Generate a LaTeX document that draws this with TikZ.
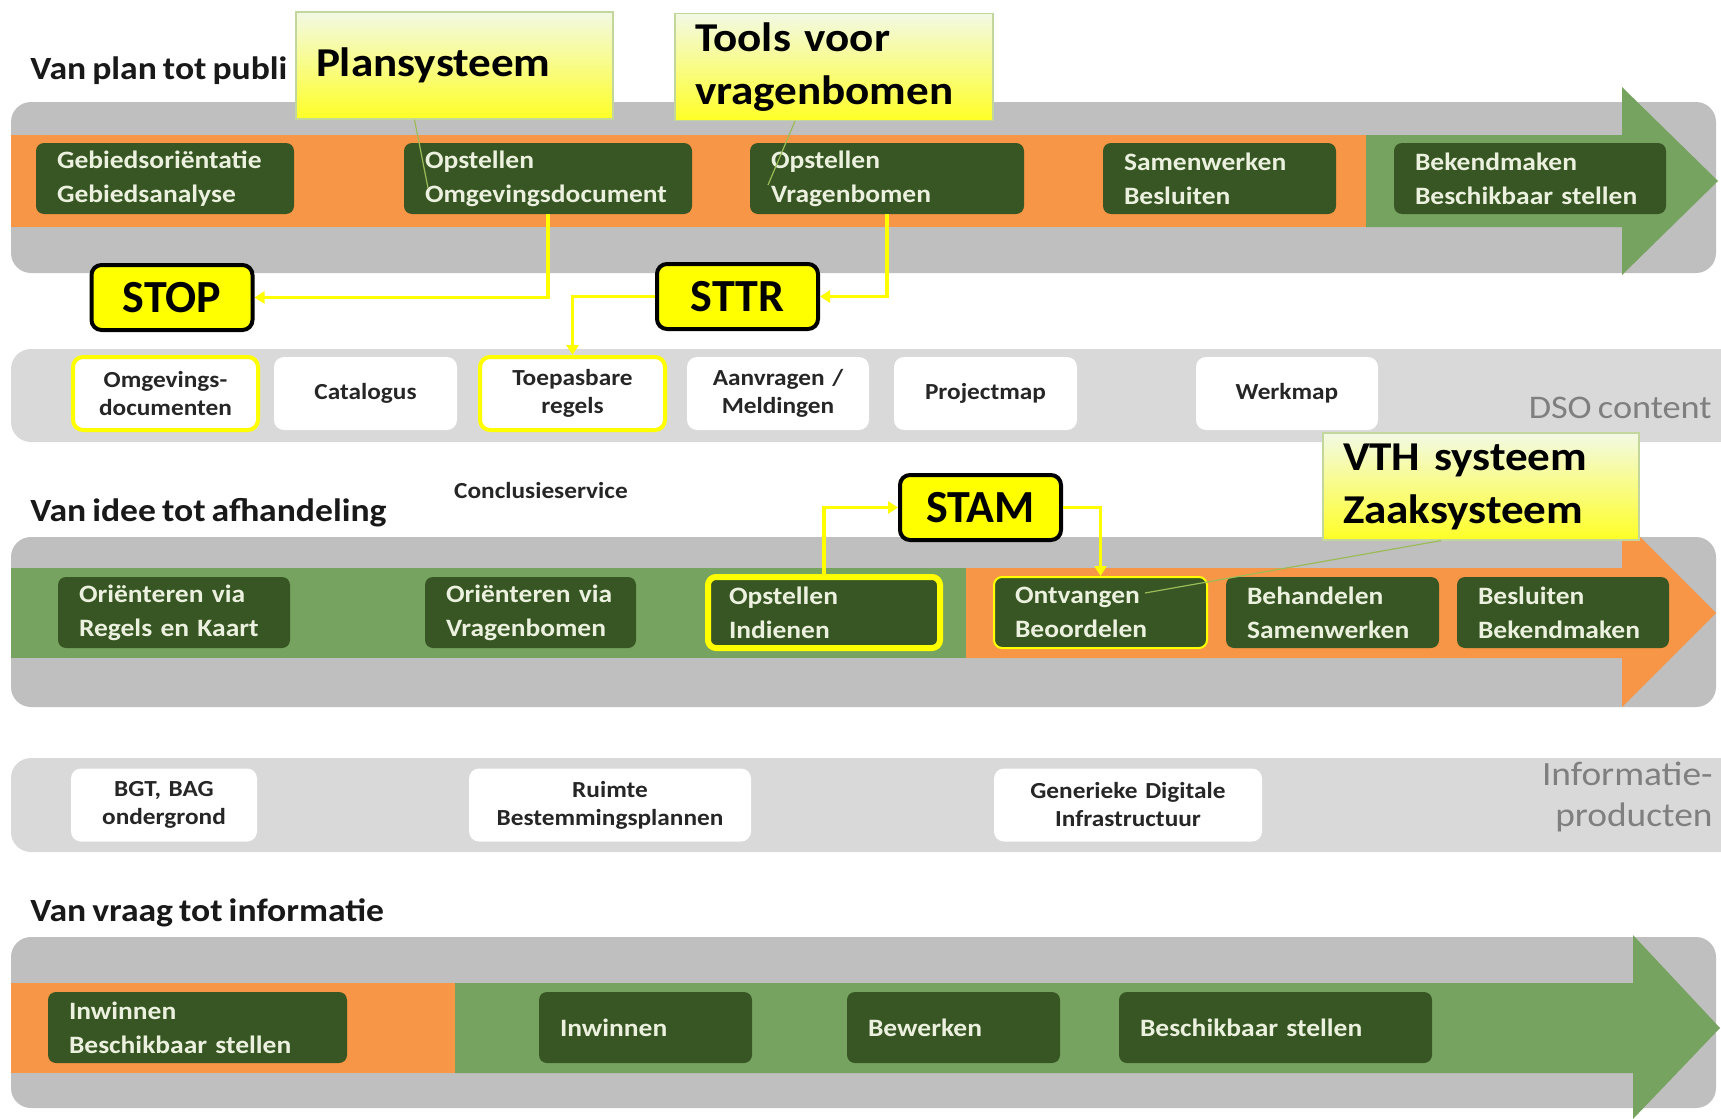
\documentclass[tikz,border=0pt]{standalone}
\usepackage{fontspec}
\setmainfont{Carlito}[FakeStretch=1.1, WordSpace=0.75]
\newfontfamily\tagfont{Carlito}
\usetikzlibrary{arrows.meta}

\definecolor{bandgrijs}{HTML}{BFBFBF}
\definecolor{lichtgrijs}{HTML}{D9D9D9}
\definecolor{oranje}{HTML}{F79646}
\definecolor{groen}{HTML}{77A360}
\definecolor{donkergroen}{HTML}{375623}
\definecolor{boxtekst}{HTML}{EBF1DE}
\definecolor{geel}{HTML}{FFFF00}
\definecolor{lichtgeel}{HTML}{F2F9E4}
\definecolor{kaderrand}{HTML}{C3D69B}
\definecolor{olijf}{HTML}{9BBB59}
\definecolor{grijstekst}{HTML}{7F7F7F}

\tikzset{
  stap/.style={rectangle, rounded corners=4pt, fill=donkergroen, text=boxtekst,
    font=\bfseries\fontsize{12.5}{17}\selectfont, align=left, text width=#1,
    inner xsep=10.5pt, inner ysep=2pt, minimum height=35.5pt},
  vak/.style={rectangle, rounded corners=5pt, fill=white, text=black!85,
    font=\bfseries\fontsize{11.5}{14}\selectfont, align=center, text width=#1,
    inner xsep=0pt, inner ysep=2pt, minimum height=36.5pt},
  tag/.style={rectangle, rounded corners=5pt, fill=geel, draw=black, line width=2pt,
    font=\tagfont\bfseries\fontsize{23}{26}\selectfont, minimum width=80.5pt, minimum height=32.5pt},
  kader/.style={rectangle, draw=kaderrand, line width=0.6pt, top color=lichtgeel, bottom color=geel!85,
    font=\bfseries\fontsize{20.5}{26.5}\selectfont, align=left, text width=#1,
    inner xsep=10pt, minimum height=53.5pt},
  titel/.style={anchor=west, font=\bfseries\fontsize{16.2}{19}\selectfont, text=black!90, inner sep=0pt},
  geelpijl/.style={draw=geel, line width=1.6pt, -{Triangle[width=6pt,length=5pt]}},
  wijzer/.style={draw=olijf, line width=0.6pt}
}

\begin{document}
\begin{tikzpicture}[x=0.5pt, y=-0.5pt]
\useasboundingbox (0,0) rectangle (1721,1119);
\fill[white] (0,0) rectangle (1721,1119);

\fill[bandgrijs, rounded corners=10pt] (11,102) rectangle (1716,273);
\fill[oranje] (11,135) rectangle (1366,227);
\fill[groen] (1366,135) -- (1622,135) -- (1622,87) -- (1718,181) -- (1622,275) -- (1622,227) -- (1366,227) -- cycle;

\fill[lichtgrijs, rounded corners=10pt] (1721,349) -- (11,349) -- (11,442) -- (1721,442);

\fill[bandgrijs, rounded corners=10pt] (11,537) rectangle (1716,707);
\fill[groen] (11,568) rectangle (966,658);
\fill[oranje] (966,568) -- (1622,568) -- (1622,519) -- (1716,613) -- (1622,707) -- (1622,658) -- (966,658) -- cycle;

\fill[lichtgrijs, rounded corners=10pt] (1721,758) -- (11,758) -- (11,852) -- (1721,852);

\fill[bandgrijs, rounded corners=10pt] (11,937) rectangle (1716,1108);
\fill[oranje] (11,983) rectangle (455,1073);
\fill[groen] (455,983) -- (1633,983) -- (1633,935) -- (1720,1028) -- (1633,1119) -- (1633,1073) -- (455,1073) -- cycle;

\node[titel] (tplan) at (30,71) {Van plan tot publi};
\node[titel] (tidee) at (30,513) {Van idee tot afhandeling};
\node[titel] (tvraag) at (30,913) {Van vraag tot informatie};
\node[font=\bfseries\fontsize{11.5}{14}\selectfont, text=black!85] (concl) at (541,491) {Conclusieservice};
\node[anchor=east, font=\fontsize{16.5}{20}\selectfont, text=grijstekst, inner sep=0pt] (dso) at (1712,408) {DSO content};
\node[anchor=east, align=right, font=\fontsize{17}{20.5}\selectfont, text=grijstekst, inner sep=0pt] (info) at (1713,797) {Informatie-\\producten};

\node[stap=108pt] (geb) at (165,178.5) {Gebiedsoriëntatie\\Gebiedsanalyse}; \node[stap=123pt] (omg) at (548,178.5) {Opstellen\\Omgevingsdocument}; \node[stap=116pt] (vrb) at (887,178.5) {Opstellen\\Vragenbomen};
\node[stap=95.5pt] (sam) at (1219.5,178.5) {Samenwerken\\Besluiten}; \node[stap=115pt] (bek) at (1530,178.5) {Bekendmaken\\Beschikbaar stellen};

\node[vak=92.5pt, draw=geel, line width=2pt] (omgd) at (165.5,393.5) {Omgevings-\\documenten}; \node[vak=91.5pt] (cat) at (365.5,393.5) {Catalogus}; \node[vak=92.5pt, draw=geel, line width=2pt] (toep) at (572.5,393.5) {Toepasbare\\regels};
\node[vak=91pt] (aanv) at (778,393.5) {Aanvragen /\\Meldingen}; \node[vak=91.5pt] (proj) at (985.5,393.5) {Projectmap}; \node[vak=91pt] (werk) at (1287,393.5) {Werkmap};

\node[stap=95pt] (oriR) at (174,612.5) {Oriënteren via\\Regels en Kaart}; \node[stap=84.5pt] (oriV) at (530.5,612.5) {Oriënteren via\\Vragenbomen}; \node[stap=95pt, draw=geel, line width=3pt] (ind) at (824,612.5) {Opstellen\\Indienen};
\node[stap=85.5pt, draw=geel, line width=1pt] (ont) at (1100.5,612.5) {Ontvangen\\Beoordelen}; \node[stap=85.5pt] (beh) at (1332.5,612.5) {Behandelen\\Samenwerken}; \node[stap=85pt] (bes) at (1563,612.5) {Besluiten\\Bekendmaken};

\node[vak=93pt] (bgt) at (164,805) {BGT, BAG\\ondergrond}; \node[vak=141pt] (ruimte) at (610,805) {Ruimte\\Bestemmingsplannen}; \node[vak=134pt] (gdi) at (1128,805) {Generieke Digitale\\Infrastructuur};

\node[stap=128.5pt] (inwB) at (197.5,1027.5) {Inwinnen\\Beschikbaar stellen}; \node[stap=85.5pt] (inw) at (645.5,1027.5) {Inwinnen}; \node[stap=85.5pt] (bew) at (953.5,1027.5) {Bewerken}; \node[stap=135.5pt] (bsch) at (1275.5,1027.5) {Beschikbaar stellen};

\node[kader=138.5pt] (plan) at (454.5,65.5) {Plansysteem}; \node[kader=139pt] (tools) at (834,67) {Tools voor\\vragenbomen}; \node[kader=138pt] (vth) at (1481,486.5) {VTH systeem\\Zaaksysteem};
\coordinate (planpt) at (428,188); \coordinate (toolspt) at (768,185); \coordinate (vthpt) at (1145,593);
\draw[wijzer] ([xshift=-20pt]plan.south) -- (planpt); \draw[wijzer] ([xshift=-19.5pt]tools.south) -- (toolspt); \draw[wijzer] ([xshift=-20pt]vth.south) -- (vthpt);

\node[tag] (stop) at (172,297.5) {STOP}; \node[tag] (sttr) at (737.5,296.5) {STTR}; \node[tag] (stam) at (980.5,507.5) {STAM};

\draw[geelpijl] (omg.south) |- (stop.east); \draw[geelpijl] (vrb.south) |- (sttr.east); \draw[geelpijl] (sttr.west) -| (toep.north);
\draw[geelpijl] (ind.north) |- (stam.west); \draw[geelpijl] (stam.east) -| (ont.north);
\end{tikzpicture}
\end{document}
